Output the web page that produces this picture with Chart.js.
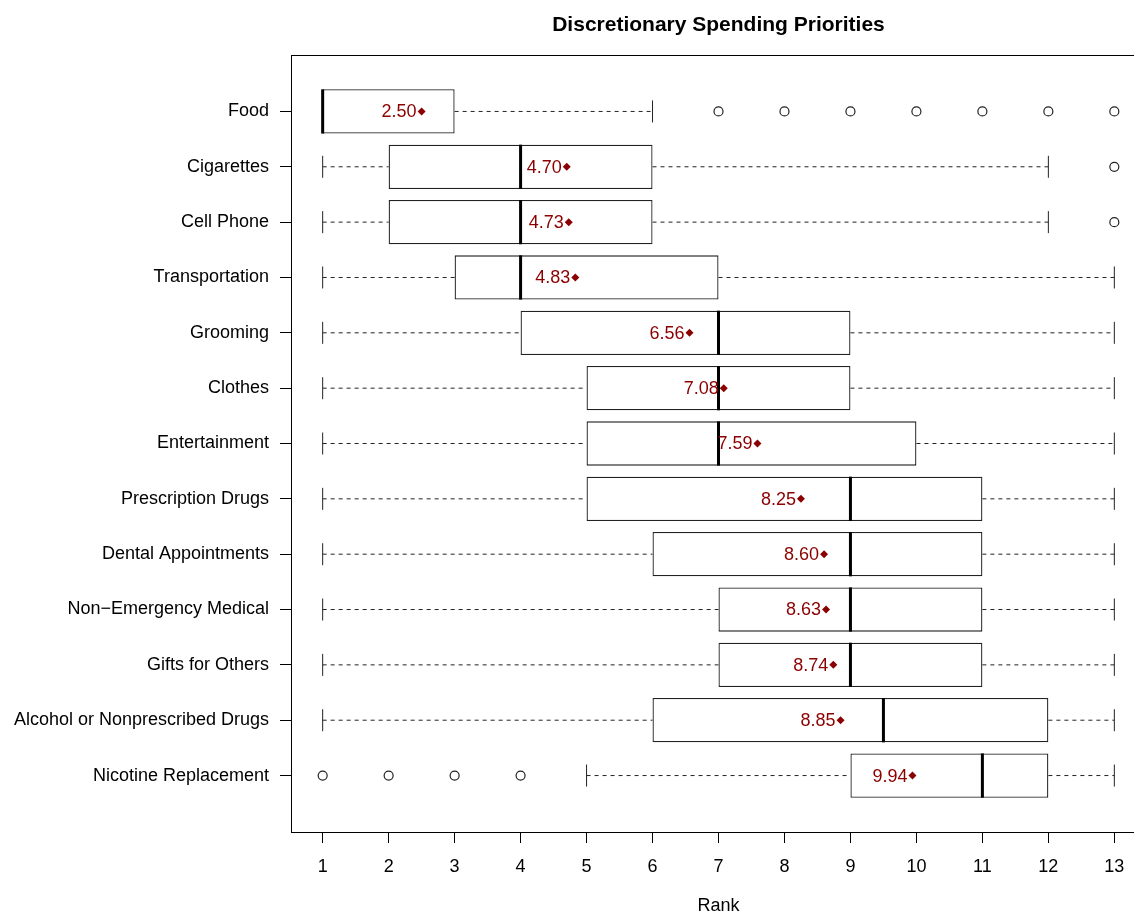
<!DOCTYPE html>
<html>
<head>
<meta charset="utf-8">
<script src="https://cdn.jsdelivr.net/npm/chart.js@4.4.1/dist/chart.umd.min.js"></script>
<style>
  html, body { margin: 0; padding: 0; overflow: hidden; background: #fff; }
  #wrap { width: 1160px; height: 917px; }
</style>
</head>
<body>
<div id="wrap"><canvas id="myChart"></canvas></div>
<script>
// rows top to bottom
const categories = ['Food', 'Cigarettes', 'Cell Phone', 'Transportation', 'Grooming', 'Clothes',
    'Entertainment', 'Prescription Drugs', 'Dental Appointments', 'Non\u2212Emergency Medical',
    'Gifts for Others', 'Alcohol or Nonprescribed Drugs', 'Nicotine Replacement'];
const whiskerLow  = [1, 1, 1, 1, 1, 1, 1, 1, 1, 1, 1, 1, 5];
const q1          = [1, 2, 2, 3, 4, 5, 5, 5, 6, 7, 7, 6, 9];
const medians     = [1, 4, 4, 4, 7, 7, 7, 9, 9, 9, 9, 9.5, 11];
const q3          = [3, 6, 6, 7, 9, 9, 10, 11, 11, 11, 11, 12, 12];
const whiskerHigh = [6, 12, 12, 13, 13, 13, 13, 13, 13, 13, 13, 13, 13];
const means       = [2.50, 4.70, 4.73, 4.83, 6.56, 7.08, 7.59, 8.25, 8.60, 8.63, 8.74, 8.85, 9.94];
const outliers    = [[7, 8, 9, 10, 11, 12, 13], [13], [13], [], [], [], [], [], [], [], [], [], [1, 2, 3, 4]];
const rankTicks   = [1, 2, 3, 4, 5, 6, 7, 8, 9, 10, 11, 12, 13];

const FONT = "'Liberation Sans', Arial, Helvetica, sans-serif";
const DARKRED = '#8B0000';

const boxData = categories.map((c, i) => ({ y: i + 1, x: [q1[i], q3[i]] }));
const outlierData = [];
outliers.forEach((list, i) => list.forEach(v => outlierData.push({ x: v, y: i + 1 })));
const meanData = means.map((m, i) => ({ x: m, y: i + 1 }));

const boxParts = {
    id: 'boxParts',
    afterDatasetDraw(chart, args) {
        if (args.index !== 0) return;
        const ctx = chart.ctx;
        const xs = chart.scales.x, ys = chart.scales.y;
        const cap = 11;
        ctx.save();
        ctx.strokeStyle = '#222';
        ctx.lineWidth = 1;
        categories.forEach((c, i) => {
            const y = ys.getPixelForValue(i + 1);
            const xl = xs.getPixelForValue(whiskerLow[i]);
            const xq1 = xs.getPixelForValue(q1[i]);
            const xq3 = xs.getPixelForValue(q3[i]);
            const xh = xs.getPixelForValue(whiskerHigh[i]);
            // dashed whiskers
            ctx.setLineDash([4, 4]);
            ctx.beginPath();
            if (xl < xq1) { ctx.moveTo(xl, y); ctx.lineTo(xq1, y); }
            if (xh > xq3) { ctx.moveTo(xq3, y); ctx.lineTo(xh, y); }
            ctx.stroke();
            // caps
            ctx.setLineDash([]);
            ctx.beginPath();
            ctx.moveTo(xl, y - cap); ctx.lineTo(xl, y + cap);
            ctx.moveTo(xh, y - cap); ctx.lineTo(xh, y + cap);
            ctx.stroke();
        });
        // medians
        const meta = chart.getDatasetMeta(0);
        ctx.strokeStyle = '#000';
        ctx.lineWidth = 3;
        meta.data.forEach((bar, i) => {
            const xm = xs.getPixelForValue(medians[i]);
            const half = bar.height / 2;
            ctx.beginPath();
            ctx.moveTo(xm, bar.y - half);
            ctx.lineTo(xm, bar.y + half);
            ctx.stroke();
        });
        ctx.restore();
    },
    afterDatasetsDraw(chart) {
        const ctx = chart.ctx;
        const xs = chart.scales.x, ys = chart.scales.y;
        ctx.save();
        ctx.font = '18px ' + FONT;
        ctx.fillStyle = DARKRED;
        ctx.textAlign = 'right';
        ctx.textBaseline = 'middle';
        means.forEach((m, i) => {
            ctx.fillText(m.toFixed(2), xs.getPixelForValue(m) - 5, ys.getPixelForValue(i + 1) + 1);
        });
        ctx.restore();
    },
    afterDraw(chart) {
        const ctx = chart.ctx;
        const a = chart.chartArea;
        ctx.save();
        ctx.strokeStyle = '#000';
        ctx.lineWidth = 1;
        ctx.strokeRect(a.left + 0.5, a.top + 0.5, a.right - a.left, a.bottom - a.top);
        ctx.fillStyle = '#000';
        ctx.font = 'bold 21px ' + FONT;
        ctx.textAlign = 'center';
        ctx.textBaseline = 'middle';
        ctx.fillText('Discretionary Spending Priorities', (a.left + a.right) / 2, 25);
        ctx.restore();
    }
};

new Chart(document.getElementById('myChart'), {
    type: 'bar',
    data: {
        datasets: [{
            type: 'bar',
            indexAxis: 'y',
            data: boxData,
            backgroundColor: '#fff',
            borderColor: '#222',
            borderWidth: 1.3,
            borderSkipped: false,
            barPercentage: 0.8,
            categoryPercentage: 1,
            order: 3
        }, {
            type: 'scatter',
            data: outlierData,
            pointStyle: 'circle',
            pointRadius: 4.5,
            pointBackgroundColor: '#fff',
            pointBorderColor: '#222',
            pointBorderWidth: 1.2,
            order: 2
        }, {
            type: 'scatter',
            data: meanData,
            pointStyle: 'rectRot',
            pointRadius: 4,
            pointBackgroundColor: DARKRED,
            pointBorderColor: DARKRED,
            pointBorderWidth: 0,
            order: 1
        }]
    },
    options: {
        responsive: true,
        maintainAspectRatio: false,
        animation: false,
        layout: { padding: { top: 55, right: 14, left: 0, bottom: 0 } },
        plugins: { legend: { display: false }, tooltip: { enabled: false }, title: { display: false } },
        scales: {
            x: {
                type: 'linear',
                position: 'bottom',
                offset: false,
                min: 0.52,
                max: 13.48,
                afterBuildTicks: s => { s.ticks = rankTicks.map(v => ({ value: v })); },
                afterFit: s => { s.height = 85; },
                grid: { offset: false, drawOnChartArea: false, drawTicks: true, tickLength: 11, color: '#000', lineWidth: 1 },
                border: { display: true, color: '#000' },
                ticks: { color: '#000', font: { family: FONT, size: 18 }, padding: 13, maxRotation: 0, autoSkip: false },
                title: { display: true, text: 'Rank', color: '#000', font: { family: FONT, size: 18 }, padding: { top: 0, bottom: 0 } }
            },
            y: {
                type: 'linear',
                position: 'left',
                offset: false,
                reverse: true,
                min: -0.02,
                max: 14.02,
                afterBuildTicks: s => { s.ticks = categories.map((c, i) => ({ value: i + 1 })); },
                afterFit: s => { s.width = 291; },
                grid: { offset: false, drawOnChartArea: false, drawTicks: true, tickLength: 11, color: '#000', lineWidth: 1 },
                border: { display: true, color: '#000' },
                ticks: {
                    color: '#000', font: { family: FONT, size: 18 }, padding: 11, autoSkip: false,
                    callback: v => categories[v - 1]
                }
            }
        }
    },
    plugins: [boxParts]
});
</script>
</body>
</html>
